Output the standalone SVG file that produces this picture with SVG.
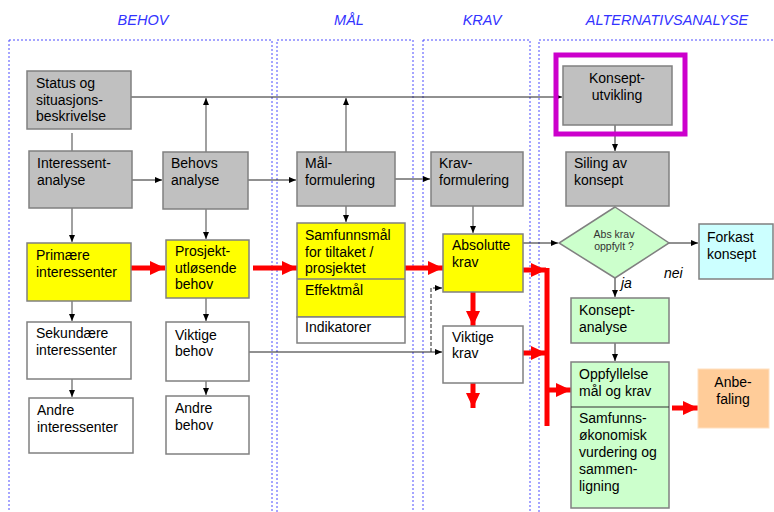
<svg xmlns="http://www.w3.org/2000/svg" width="774" height="512" viewBox="0 0 774 512">
<defs>
<style>
text{font-family:"Liberation Sans",Arial,sans-serif;font-size:14px;fill:#000}
.hdr{font-style:italic;fill:#3333ff;text-anchor:middle;font-size:14.5px}
.frame{fill:none;stroke:#4d4dff;stroke-width:1;stroke-dasharray:2,2}
.gray{fill:#c0c0c0;stroke:#808080;stroke-width:1.5}
.yel{fill:#ffff00;stroke:#808080;stroke-width:1.5}
.wht{fill:#ffffff;stroke:#808080;stroke-width:1.5}
.grn{fill:#ccffcc;stroke:#808080;stroke-width:1.5}
.cyan{fill:#ccffff;stroke:#808080;stroke-width:1.5}
.c{stroke:#222;stroke-width:1;fill:none}
.v{stroke:#808080;stroke-width:1.5;fill:none}
.r{stroke:#ff0000;stroke-width:5;fill:none}
.mid{text-anchor:middle}
.it{font-style:italic}
.sm{font-size:10.5px;fill:#333}
</style>
<marker id="a" markerUnits="userSpaceOnUse" markerWidth="8" markerHeight="8" refX="7" refY="4" orient="auto"><path d="M0,1 L7,4 L0,7 z" fill="#000"/></marker>
<marker id="ra" markerUnits="userSpaceOnUse" markerWidth="16" markerHeight="16" refX="15" refY="7" orient="auto"><path d="M0,0 L15,7 L0,14 z" fill="#ff0000"/></marker>
</defs>
<rect width="774" height="512" fill="#fff"/>

<g id="frames">
<rect class="frame" x="9" y="40" width="263" height="490"/>
<rect class="frame" x="277" y="40" width="136" height="490"/>
<rect class="frame" x="423" y="40" width="107" height="490"/>
<rect class="frame" x="539" y="40" width="240" height="490"/>
<text class="hdr" x="143" y="25">BEHOV</text>
<text class="hdr" x="349" y="25">MÅL</text>
<text class="hdr" x="482" y="25">KRAV</text>
<text class="hdr" x="667" y="25">ALTERNATIVSANALYSE</text>
</g>

<g id="connectors">
<path class="c" d="M131,97 H562" marker-end="url(#a)"/>
<path class="v" d="M206,152 V98" marker-end="url(#a)"/>
<path class="v" d="M346,152 V98" marker-end="url(#a)"/>
<path class="v" d="M72,133 V151"/>
<path class="c" d="M132,180 H162" marker-end="url(#a)"/>
<path class="c" d="M248,180 H296" marker-end="url(#a)"/>
<path class="c" d="M395,179 H430" marker-end="url(#a)"/>
<path class="v" d="M473,206 V233" marker-end="url(#a)"/>
<path class="c" d="M523,243 H558" marker-end="url(#a)"/>
<path class="c" d="M669,243 H698" marker-end="url(#a)"/>
<path class="c" d="M615,278 V297" marker-end="url(#a)"/>
<path class="c" d="M615,125 V151" marker-end="url(#a)"/>
<path class="c" d="M615,343 V361" marker-end="url(#a)"/>
<path class="v" d="M72,208 V242" marker-end="url(#a)"/>
<path class="v" d="M206,209 V239" marker-end="url(#a)"/>
<path class="v" d="M72,301 V321" marker-end="url(#a)"/>
<path class="v" d="M72,379 V397" marker-end="url(#a)"/>
<path class="v" d="M206,298 V321" marker-end="url(#a)"/>
<path class="v" d="M206,381 V395" marker-end="url(#a)"/>
<path class="v" d="M346,206 V222" marker-end="url(#a)"/>
<path class="c" d="M249,352 H442" marker-end="url(#a)"/>
<path class="c" d="M431,352 V288 H442" stroke-dasharray="4,2" marker-end="url(#a)"/>
<path class="r" d="M131,268 H165" marker-end="url(#ra)"/>
<path class="r" d="M253,268 H297" marker-end="url(#ra)"/>
<path class="r" d="M405,268 H443" marker-end="url(#ra)"/>
<path class="r" d="M473,292 V326" marker-end="url(#ra)"/>
<path class="r" d="M473,383 V408" marker-end="url(#ra)"/>
<path class="r" d="M523,270 H546" marker-end="url(#ra)"/>
<path class="r" d="M523,353 H546" marker-end="url(#ra)"/>
<path class="r" d="M547,268 V426"/>
<path class="r" d="M547,390 H571" marker-end="url(#ra)"/>
<path class="r" d="M672,408 H698" marker-end="url(#ra)"/>
</g>

<g id="status"><rect class="gray" x="27" y="71" width="104" height="58"/><text x="36" y="88">Status og</text><text x="36" y="104.5">situasjons-</text><text x="36" y="121">beskrivelse</text></g>
<g id="interessent"><rect class="gray" x="29" y="151" width="103" height="57"/><text x="37" y="168">Interessent-</text><text x="37" y="185">analyse</text></g>
<g id="behovs"><rect class="gray" x="163" y="152" width="85" height="57"/><text x="171" y="168">Behovs</text><text x="171" y="185">analyse</text></g>
<g id="malformulering"><rect class="gray" x="297" y="152" width="98" height="54"/><text x="305" y="168">Mål-</text><text x="305" y="185">formulering</text></g>
<g id="kravformulering"><rect class="gray" x="431" y="152" width="92" height="54"/><text x="439" y="168">Krav-</text><text x="439" y="185">formulering</text></g>
<g id="konseptutvikling"><rect x="556" y="55" width="129" height="79" fill="none" stroke="#cc00cc" stroke-width="5"/><rect class="gray" x="563" y="66" width="109" height="59"/><text class="mid" x="617" y="83">Konsept-</text><text class="mid" x="617" y="100">utvikling</text></g>
<g id="siling"><rect class="gray" x="566" y="152" width="103" height="54"/><text x="574" y="168">Siling av</text><text x="574" y="185">konsept</text></g>
<g id="abskrav"><path class="grn" d="M615,207 L669,243 L615,278 L559,243 z"/><text class="mid sm" x="614" y="238">Abs  krav</text><text class="mid sm" x="614" y="250">oppfylt ?</text></g>
<g id="forkast"><rect class="cyan" x="699" y="224" width="74" height="55"/><text x="707" y="242">Forkast</text><text x="707" y="259">konsept</text></g>
<g id="labels"><text class="it" x="664" y="278">nei</text><text class="it" x="621" y="288">ja</text></g>
<g id="konseptanalyse"><rect class="grn" x="571" y="298" width="98" height="45"/><text x="579" y="315">Konsept-</text><text x="579" y="332">analyse</text></g>
<g id="oppfyllelse"><rect class="grn" x="571" y="362" width="98" height="146"/><line x1="571" y1="407" x2="669" y2="407" stroke="#333" stroke-width="1.2"/><text x="579" y="379">Oppfyllelse</text><text x="579" y="396">mål og krav</text><text x="579" y="423">Samfunns-</text><text x="579" y="440">økonomisk</text><text x="579" y="457">vurdering og</text><text x="579" y="474">sammen-</text><text x="579" y="491">ligning</text></g>
<g id="anbefaling"><rect x="698" y="369" width="71" height="59" fill="#ffcc99" stroke="#ffe0c0" stroke-width="1"/><text class="mid" x="733" y="387">Anbe-</text><text class="mid" x="733" y="404">faling</text></g>
<g id="primaere"><rect class="yel" x="27" y="243" width="104" height="58"/><text x="36" y="260">Primære</text><text x="36" y="277">interessenter</text></g>
<g id="prosjekt"><rect class="yel" x="166" y="240" width="83" height="58"/><text x="175" y="256">Prosjekt-</text><text x="175" y="272.5">utløsende</text><text x="175" y="289">behov</text></g>
<g id="sekundaere"><rect class="wht" x="27" y="322" width="104" height="57"/><text x="36" y="338">Sekundære</text><text x="36" y="355">interessenter</text></g>
<g id="viktigebehov"><rect class="wht" x="166" y="322" width="83" height="59"/><text x="175" y="340">Viktige</text><text x="175" y="356">behov</text></g>
<g id="andreinteressenter"><rect class="wht" x="29" y="398" width="104" height="55"/><text x="37" y="415">Andre</text><text x="37" y="432">interessenter</text></g>
<g id="andrebehov"><rect class="wht" x="166" y="396" width="83" height="58"/><text x="175" y="413">Andre</text><text x="175" y="430">behov</text></g>
<g id="samfunnsmal"><rect class="yel" x="297" y="223" width="108" height="94"/><rect class="wht" x="297" y="317" width="108" height="26"/><line x1="297" y1="279" x2="405" y2="279" stroke="#808080" stroke-width="1.5"/><text x="305" y="240">Samfunnsmål</text><text x="305" y="257">for tiltaket /</text><text x="305" y="273">prosjektet</text><text x="305" y="295">Effektmål</text><text x="305" y="332">Indikatorer</text></g>
<g id="absolutte"><rect class="yel" x="443" y="234" width="80" height="58"/><text x="452" y="250">Absolutte</text><text x="452" y="267">krav</text></g>
<g id="viktigekrav"><rect class="wht" x="443" y="326" width="80" height="57"/><text x="452" y="342">Viktige</text><text x="452" y="358">krav</text></g>
</svg>
